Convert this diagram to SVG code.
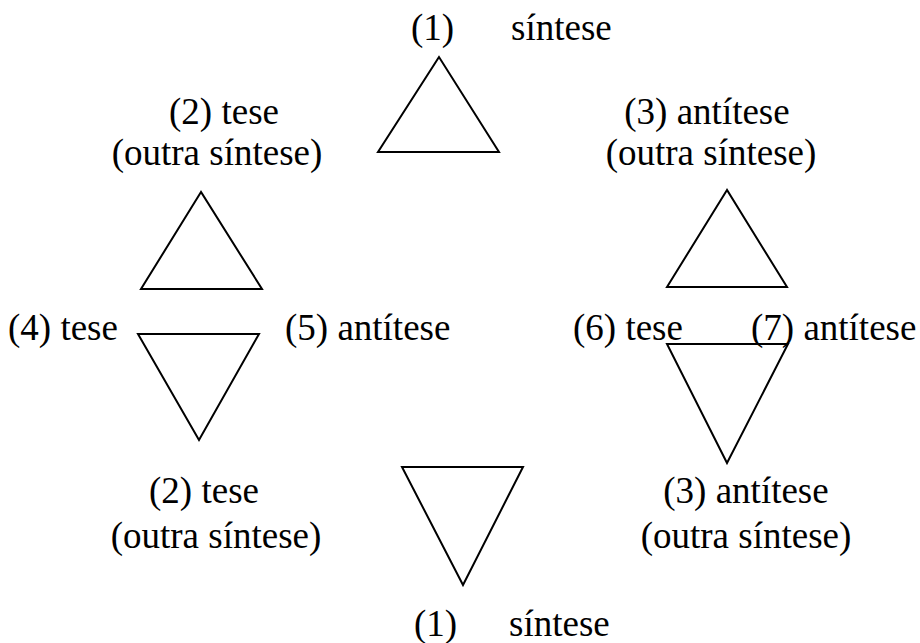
<svg xmlns="http://www.w3.org/2000/svg" width="920" height="643" viewBox="0 0 920 643">
<style>
text{font-family:'Liberation Serif','Times New Roman',Times,'DejaVu Serif',serif;font-size:37px;fill:#000}
.m{text-anchor:middle}
.tri{fill:none;stroke:#000;stroke-width:2;stroke-linejoin:miter}
</style>
<rect width="920" height="643" fill="#fff"/>
<g id="top">
<polygon class="tri" points="439,57 378,152 499,152"/>
<text x="411" y="40">(1)</text>
<text x="511" y="40">síntese</text>
</g>
<g id="upper-left">
<polygon class="tri" points="201,192 141,289 262,289"/>
<text class="m" x="224" y="124">(2) tese</text>
<text class="m" x="217" y="165">(outra síntese)</text>
</g>
<g id="upper-right">
<polygon class="tri" points="727,190 667,287 787,287"/>
<text class="m" x="707" y="124">(3) antítese</text>
<text class="m" x="711" y="165">(outra síntese)</text>
</g>
<g id="middle-left">
<polygon class="tri" points="138,334 259,334 199,440"/>
<text x="8" y="340">(4) tese</text>
<text x="285" y="340">(5) antítese</text>
</g>
<g id="middle-right">
<polygon class="tri" points="667,344 788,344 727,463"/>
<text x="573" y="340">(6) tese</text>
<text x="751" y="340">(7) antítese</text>
</g>
<g id="lower-left">
<text class="m" x="204" y="503">(2) tese</text>
<text class="m" x="216" y="548">(outra síntese)</text>
</g>
<g id="lower-right">
<text class="m" x="746" y="503">(3) antítese</text>
<text class="m" x="746" y="548">(outra síntese)</text>
</g>
<g id="bottom">
<polygon class="tri" points="402,467 523,467 463,585"/>
<text x="414" y="636">(1)</text>
<text x="509" y="636">síntese</text>
</g>
<g id="connectors"></g>
</svg>
